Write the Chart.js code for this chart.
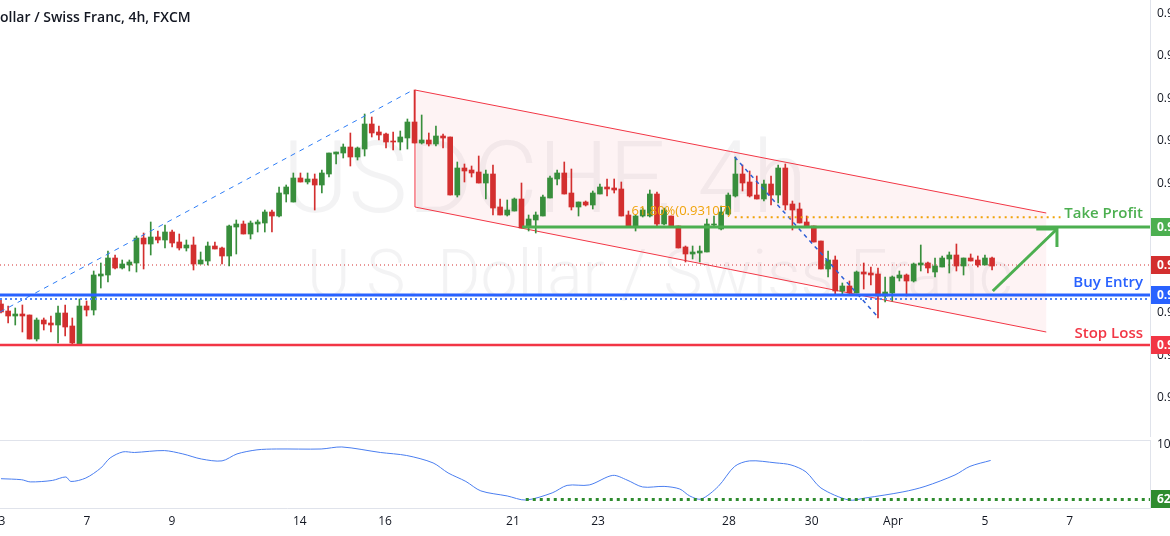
<!DOCTYPE html>
<html>
<head>
<meta charset="utf-8">
<script src="https://cdn.jsdelivr.net/npm/chart.js@4.4.1/dist/chart.umd.min.js"></script>
<style>
html,body{margin:0;padding:0;background:#fff;overflow:hidden;}
#wrap{position:relative;width:1170px;height:536px;}
#precio{position:absolute;left:0;top:0;}
#osc{position:absolute;left:0;top:437px;}
</style>
</head>
<body>
<div id="wrap">
<canvas id="precio" width="1170" height="437"></canvas>
<canvas id="osc" width="1170" height="99"></canvas>
</div>
<script>
// velas 4h USDCHF (índice de vela 0..139)
const aperturas = [0.9224,0.9217,0.9212,0.9214,0.9213,0.9189,0.9208,0.9205,0.9203,0.9215,0.9202,0.9183,0.9222,0.9218,0.9252,0.9253,0.9270,0.9260,0.9263,0.9265,0.9290,0.9284,0.9291,0.9288,0.9296,0.9286,0.9280,0.9283,0.9264,0.9267,0.9282,0.9280,0.9272,0.9301,0.9304,0.9294,0.9304,0.9305,0.9316,0.9312,0.9334,0.9326,0.9350,0.9346,0.9349,0.9343,0.9354,0.9374,0.9375,0.9381,0.9371,0.9379,0.9404,0.9396,0.9394,0.9387,0.9386,0.9390,0.9406,0.9385,0.9388,0.9384,0.9392,0.9391,0.9333,0.9360,0.9358,0.9356,0.9345,0.9354,0.9321,0.9313,0.9317,0.9329,0.9301,0.9308,0.9312,0.9330,0.9349,0.9355,0.9335,0.9321,0.9326,0.9323,0.9334,0.9341,0.9340,0.9339,0.9313,0.9302,0.9312,0.9312,0.9334,0.9304,0.9312,0.9302,0.9281,0.9274,0.9275,0.9276,0.9303,0.9299,0.9314,0.9332,0.9354,0.9346,0.9333,0.9329,0.9344,0.9333,0.9360,0.9324,0.9319,0.9306,0.9302,0.9287,0.9259,0.9268,0.9237,0.9242,0.9235,0.9256,0.9255,0.9254,0.9232,0.9235,0.9250,0.9253,0.9247,0.9263,0.9265,0.9256,0.9261,0.9269,0.9273,0.9262,0.9270,0.9268,0.9263,0.9270];
const maximos = [0.9228,0.9222,0.9220,0.9223,0.9213,0.9210,0.9210,0.9212,0.9222,0.9223,0.9210,0.9229,0.9227,0.9257,0.9265,0.9277,0.9273,0.9268,0.9268,0.9292,0.9295,0.9306,0.9297,0.9303,0.9298,0.9294,0.9288,0.9291,0.9276,0.9286,0.9286,0.9281,0.9303,0.9308,0.9307,0.9307,0.9308,0.9318,0.9318,0.9341,0.9343,0.9355,0.9355,0.9355,0.9354,0.9358,0.9375,0.9376,0.9384,0.9395,0.9381,0.9414,0.9411,0.9402,0.9395,0.9396,0.9397,0.9409,0.9438,0.9413,0.9395,0.9402,0.9394,0.9391,0.9366,0.9364,0.9362,0.9372,0.9358,0.9363,0.9329,0.9328,0.9330,0.9345,0.9313,0.9316,0.9333,0.9352,0.9358,0.9366,0.9359,0.9326,0.9327,0.9337,0.9344,0.9349,0.9349,0.9346,0.9317,0.9313,0.9320,0.9338,0.9336,0.9320,0.9312,0.9302,0.9282,0.9282,0.9282,0.9309,0.9312,0.9322,0.9335,0.9371,0.9363,0.9357,0.9352,0.9348,0.9352,0.9363,0.9364,0.9327,0.9325,0.9312,0.9302,0.9287,0.9277,0.9272,0.9245,0.9247,0.9257,0.9265,0.9261,0.9260,0.9251,0.9252,0.9257,0.9254,0.9265,0.9283,0.9266,0.9270,0.9272,0.9276,0.9284,0.9270,0.9274,0.9272,0.9273,0.9271];
const minimos = [0.9215,0.9205,0.9203,0.9196,0.9189,0.9187,0.9198,0.9196,0.9185,0.9192,0.9183,0.9183,0.9212,0.9213,0.9240,0.9246,0.9259,0.9259,0.9257,0.9256,0.9259,0.9273,0.9285,0.9280,0.9281,0.9278,0.9277,0.9258,0.9264,0.9263,0.9279,0.9264,0.9262,0.9274,0.9294,0.9289,0.9296,0.9296,0.9296,0.9311,0.9326,0.9326,0.9346,0.9344,0.9318,0.9335,0.9351,0.9364,0.9370,0.9362,0.9368,0.9372,0.9391,0.9388,0.9380,0.9378,0.9378,0.9379,0.9385,0.9384,0.9382,0.9382,0.9380,0.9333,0.9331,0.9346,0.9351,0.9345,0.9329,0.9313,0.9313,0.9312,0.9317,0.9300,0.9297,0.9295,0.9312,0.9330,0.9343,0.9334,0.9318,0.9312,0.9322,0.9319,0.9334,0.9332,0.9335,0.9312,0.9302,0.9297,0.9311,0.9311,0.9302,0.9303,0.9301,0.9280,0.9266,0.9269,0.9266,0.9276,0.9302,0.9298,0.9313,0.9331,0.9337,0.9331,0.9329,0.9327,0.9323,0.9325,0.9318,0.9298,0.9305,0.9301,0.9286,0.9259,0.9251,0.9233,0.9234,0.9234,0.9235,0.9239,0.9243,0.9210,0.9226,0.9227,0.9247,0.9232,0.9246,0.9257,0.9255,0.9251,0.9261,0.9255,0.9257,0.9253,0.9267,0.9261,0.9263,0.9258];
const cierres = [0.9216,0.9212,0.9214,0.9212,0.9189,0.9208,0.9204,0.9203,0.9215,0.9201,0.9185,0.9222,0.9218,0.9253,0.9254,0.9270,0.9260,0.9264,0.9266,0.9290,0.9284,0.9291,0.9288,0.9296,0.9285,0.9280,0.9283,0.9264,0.9268,0.9282,0.9279,0.9272,0.9302,0.9304,0.9294,0.9305,0.9306,0.9316,0.9312,0.9335,0.9341,0.9350,0.9346,0.9349,0.9343,0.9355,0.9375,0.9376,0.9381,0.9371,0.9380,0.9404,0.9395,0.9393,0.9386,0.9386,0.9391,0.9406,0.9385,0.9388,0.9384,0.9392,0.9390,0.9333,0.9360,0.9357,0.9355,0.9345,0.9354,0.9320,0.9313,0.9318,0.9329,0.9300,0.9309,0.9313,0.9331,0.9350,0.9355,0.9334,0.9321,0.9326,0.9323,0.9335,0.9341,0.9339,0.9338,0.9312,0.9302,0.9312,0.9318,0.9334,0.9304,0.9318,0.9301,0.9280,0.9274,0.9276,0.9277,0.9304,0.9304,0.9316,0.9333,0.9354,0.9345,0.9332,0.9329,0.9344,0.9333,0.9360,0.9323,0.9318,0.9305,0.9301,0.9286,0.9259,0.9268,0.9237,0.9242,0.9235,0.9256,0.9254,0.9253,0.9232,0.9236,0.9251,0.9253,0.9247,0.9264,0.9265,0.9260,0.9262,0.9270,0.9273,0.9262,0.9270,0.9267,0.9263,0.9270,0.9262];

// oscilador (posición en velas, valor)
const oscX = [0,2.9,4.1,7.2,9.1,9.8,11.9,14.0,15.3,17.1,18.7,22.9,25.5,28.1,31.0,33.1,35.9,38.6,44.9,47.8,53.2,56.9,60.6,62.7,65.2,67.3,71.0,73.6,77.3,79.4,82.5,85.8,87.8,90.0,93.0,95.2,96.6,98.2,100.6,102.9,105.0,108.7,110.8,112.9,115.0,118.9,121.2,126.5,129.6,133.8,135.9,138.8];
const oscValores = [76.7,76.0,74.5,75.5,77.9,74.8,77.2,84.1,91.0,95.2,94.8,96.1,93.8,90.3,89.0,93.8,96.6,97.2,97.2,98.6,94.8,92.7,87.6,80.7,74.8,68.3,64.8,62.0,66.9,72.1,72.4,79.0,75.8,71.0,71.4,69.6,64.8,62.7,71.4,85.2,89.0,87.6,86.2,81.4,70.3,62.0,63.4,67.6,71.4,79.3,85.2,89.3];
const oscNivel = 62.4;

// eje de tiempo
const fechasPos = [0.14,12.06,23.98,41.9,53.86,71.8,83.73,102.1,113.7,125.1,138.0,149.9];
const fechasTxt = ["3","7","9","14","16","21","23","28","30","Apr","5","7"];
const preciosTicks = [0.9514,0.9472,0.9429,0.9387,0.9344,0.9301,0.9258,0.9215,0.9172,0.9130];

// niveles del análisis
const takeProfit = 0.9301;
const precioActual = 0.9263;
const buyEntry = 0.9233;
const buyEntry2 = 0.9229;
const stopLoss = 0.9183;
const fib618 = 0.93107;
const canalSup = [[58.06,0.9438],[146.6,0.9315]];
const canalInf = [[58.06,0.9321],[146.6,0.9196]];
const tendencia1 = [[-0.14,0.9216],[57.8,0.9438]];
const tendencia2 = [[102.9,0.9371],[123.0,0.9211]];
const flecha = [[139.1,0.9237],[148.1,0.9299]];

const VERDE = "#388e3c", ROJO = "#d32f2f";
const xMin = -0.14, xMax = 161.15;
const FUENTE = "'Open Sans'";

const colores = aperturas.map((o,i)=> cierres[i] >= o ? VERDE : ROJO);
const idx = aperturas.map((_,i)=>i);

function linea(ctx, x, y, pts, color, ancho, dash){
  ctx.save();
  ctx.strokeStyle = color; ctx.lineWidth = ancho; ctx.setLineDash(dash || []);
  ctx.beginPath();
  pts.forEach((p,k)=>{
    const px = x.getPixelForValue(p[0]), py = y.getPixelForValue(p[1]);
    if(k===0) ctx.moveTo(px,py); else ctx.lineTo(px,py);
  });
  ctx.stroke();
  ctx.restore();
}

function etiqueta(ctx, y, valor, color, dec){
  const py = Math.round(y.getPixelForValue(valor));
  ctx.fillStyle = color;
  ctx.fillRect(1151, py-9, 19, 18);
  ctx.fillStyle = "#fff";
  ctx.font = "bold 12px " + FUENTE;
  ctx.textBaseline = "middle"; ctx.textAlign = "left";
  ctx.fillText(valor.toFixed(dec), 1157, py+1);
}

function etiquetasEje(ctx, y, valores, dec){
  ctx.save();
  ctx.fillStyle = "#131722"; ctx.font = "12px " + FUENTE;
  ctx.textBaseline = "middle"; ctx.textAlign = "left";
  valores.forEach(v=>ctx.fillText(v.toFixed(dec), 1157, y.getPixelForValue(v)));
  ctx.restore();
}

const fondoPlugin = {
  id:"fondo",
  beforeDatasetsDraw(chart){
    const {ctx, scales:{x,y}} = chart;
    ctx.save();
    ctx.fillStyle = "rgba(120,123,134,0.09)";
    ctx.textAlign = "center"; ctx.textBaseline = "alphabetic";
    ctx.font = "300 100px Roboto";
    ctx.fillText("USDCHF, 4h", 545, 212);
    ctx.font = "300 66px Roboto";
    ctx.fillText("U.S. Dollar / Swiss Franc", 660, 297);
    ctx.fillStyle = "rgba(242,54,69,0.06)";
    ctx.beginPath();
    ctx.moveTo(x.getPixelForValue(canalSup[0][0]), y.getPixelForValue(canalSup[0][1]));
    ctx.lineTo(x.getPixelForValue(canalSup[1][0]), y.getPixelForValue(canalSup[1][1]));
    ctx.lineTo(x.getPixelForValue(canalInf[1][0]), y.getPixelForValue(canalInf[1][1]));
    ctx.lineTo(x.getPixelForValue(canalInf[0][0]), y.getPixelForValue(canalInf[0][1]));
    ctx.closePath(); ctx.fill();
    ctx.restore();
    linea(ctx,x,y,canalSup,"#f23645",1);
    linea(ctx,x,y,canalInf,"#f23645",1);
    linea(ctx,x,y,[[canalSup[0][0],canalSup[0][1]],[canalInf[0][0],canalInf[0][1]]],"#f23645",1);
    linea(ctx,x,y,[[xMin,precioActual],[xMax,precioActual]],ROJO,1,[1,3]);
  },
  afterDatasetsDraw(chart){
    const {ctx, scales:{x,y}} = chart;
    linea(ctx,x,y,tendencia1,"#2e7df6",1,[5,5]);
    linea(ctx,x,y,tendencia2,"#2e5fd6",1.5,[4,4]);
    linea(ctx,x,y,[[102.9,fib618],[148.6,fib618]],"#f0a30a",2,[2,4]);
    linea(ctx,x,y,[[73.1,takeProfit],[xMax,takeProfit]],"#4caf50",3);
    linea(ctx,x,y,[[xMin,buyEntry],[xMax,buyEntry]],"#2962ff",3);
    linea(ctx,x,y,[[xMin,buyEntry2],[xMax,buyEntry2]],"#4f86f7",2,[2,3]);
    linea(ctx,x,y,[[xMin,stopLoss],[xMax,stopLoss]],"#f23645",2.5);
    linea(ctx,x,y,flecha,"#4caf50",3);
    linea(ctx,x,y,[[145.2,0.9299],[148.1,0.9299],[148.1,0.9281]],"#4caf50",3);

    etiquetasEje(ctx, y, preciosTicks, 4);
    ctx.save();
    ctx.textBaseline = "alphabetic";
    ctx.font = "13px " + FUENTE; ctx.fillStyle = "#f0a30a"; ctx.textAlign = "right";
    ctx.fillText("61.80%(0.93107)", 731, 215);
    ctx.font = "600 15px " + FUENTE;
    ctx.fillStyle = "#4caf50"; ctx.fillText("Take Profit", 1143, 218);
    ctx.fillStyle = "#2962ff"; ctx.fillText("Buy Entry", 1143, 287);
    ctx.fillStyle = "#f23645"; ctx.fillText("Stop Loss", 1143, 338);
    ctx.font = "600 14px " + FUENTE; ctx.fillStyle = "#131722"; ctx.textAlign = "left";
    ctx.fillText("U.S. Dollar / Swiss Franc, 4h, FXCM", -ctx.measureText("U.S. D").width, 22);
    ctx.restore();
    etiqueta(ctx,y,takeProfit,"#4caf50",4);
    etiqueta(ctx,y,precioActual,ROJO,4);
    etiqueta(ctx,y,buyEntry,"#2962ff",4);
    etiqueta(ctx,y,stopLoss,"#f23645",4);
  }
};

new Chart(document.getElementById("precio"),{
  type:"bar",
  data:{
    datasets:[
      {data: idx.map(i=>({x:i, y:[minimos[i],maximos[i]]})), backgroundColor: colores, barThickness:1, grouped:false, order:2},
      {data: idx.map(i=>({x:i, y:[aperturas[i],cierres[i]]})), backgroundColor: colores, barThickness:5, minBarLength:1, grouped:false, order:1}
    ]
  },
  options:{
    responsive:false, animation:false, devicePixelRatio:1,
    layout:{padding:0},
    plugins:{legend:{display:false}, tooltip:{enabled:false}},
    scales:{
      x:{type:"linear", min:xMin, max:xMax, display:false, offset:false},
      y:{position:"right", min:0.9091, max:0.9528,
        afterFit:s=>{s.width=20;},
        grid:{display:false, drawTicks:false},
        border:{color:"#e0e3eb"},
        ticks:{display:false}
      }
    }
  },
  plugins:[fondoPlugin]
});

const oscPlugin = {
  id:"oscExtra",
  beforeDatasetsDraw(chart){
    const {ctx, chartArea:a} = chart;
    ctx.save();
    ctx.strokeStyle = "#e0e3eb"; ctx.lineWidth = 1;
    ctx.beginPath(); ctx.moveTo(0,a.top+0.5); ctx.lineTo(a.right,a.top+0.5); ctx.stroke();
    ctx.restore();
  },
  afterDatasetsDraw(chart){
    const {ctx, chartArea:a, scales:{x,y}} = chart;
    linea(ctx,x,y,[[73.6,oscNivel],[xMax,oscNivel]],"#2e8b2e",3,[3,4]);
    etiquetasEje(ctx, y, [100], 2);
    etiqueta(ctx,y,oscNivel,"#2e8b2e",2);
    ctx.save();
    ctx.fillStyle = "#131722"; ctx.font = "12px " + FUENTE;
    ctx.textAlign = "center"; ctx.textBaseline = "middle";
    fechasPos.forEach((p,i)=>ctx.fillText(fechasTxt[i], x.getPixelForValue(p), a.bottom+14));
    ctx.restore();
  }
};

new Chart(document.getElementById("osc"),{
  type:"line",
  data:{datasets:[{data: oscX.map((v,i)=>({x:v, y:oscValores[i]})), borderColor:"#4a7ef0", borderWidth:1, pointRadius:0, tension:0.3}]},
  options:{
    responsive:false, animation:false, devicePixelRatio:1,
    layout:{padding:{top:3}},
    plugins:{legend:{display:false}, tooltip:{enabled:false}},
    scales:{
      x:{type:"linear", min:xMin, max:xMax,
        afterFit:s=>{s.height=28;},
        grid:{display:false, drawTicks:false},
        border:{color:"#e0e3eb"},
        ticks:{display:false}
      },
      y:{position:"right", min:56.5, max:103.4,
        afterFit:s=>{s.width=20;},
        grid:{display:false, drawTicks:false},
        border:{color:"#e0e3eb"},
        ticks:{display:false}
      }
    }
  },
  plugins:[oscPlugin]
});
</script>
</body>
</html>
